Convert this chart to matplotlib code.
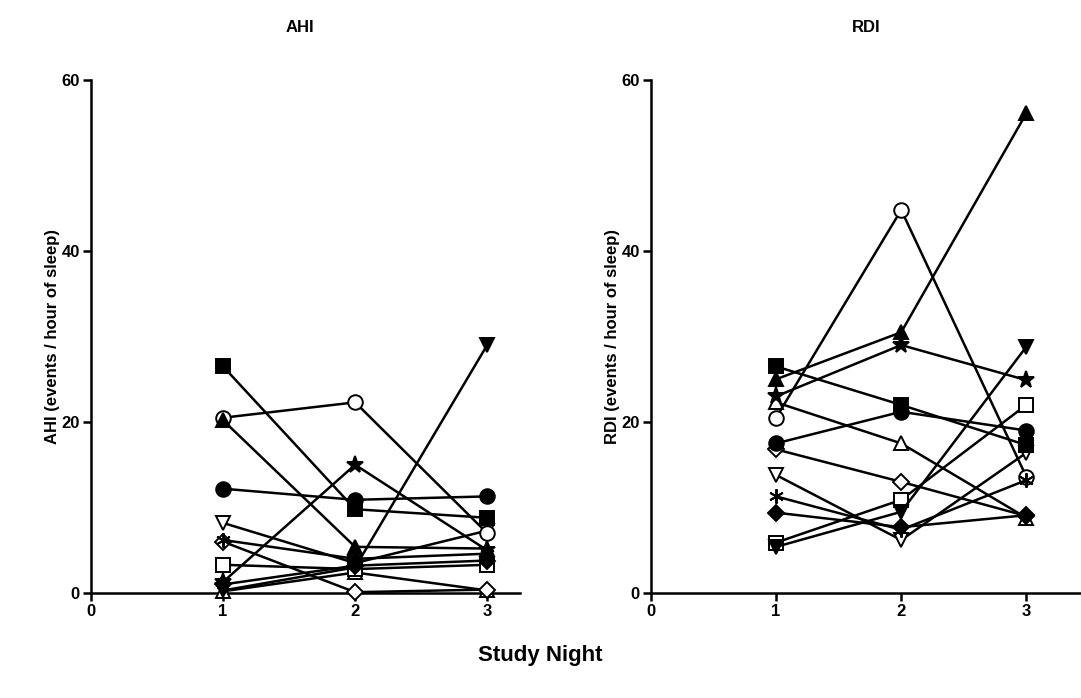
import numpy as np
import matplotlib
matplotlib.use('Agg')
import matplotlib.pyplot as plt

plt.rcParams['font.family'] = ['Liberation Sans', 'DejaVu Sans']
plt.rcParams['font.weight'] = 'bold'

# ------------------------------------------------------------
# data
# ------------------------------------------------------------
nights = [1, 2, 3]

# one key per subject (marker shape + fill), drawn in this order
subjects = ['tu_o', 'di_o', 'sq_o', 'td_o', 'ci_o', 'ast', 'sq_f',
            'ci_f', 'tu_f', 'st_f', 'di_f', 'td_f']

ahi = {
    'sq_f': [26.5, 9.8, 8.8],
    'ci_o': [20.5, 22.3, 7.0],
    'tu_f': [20.2, 5.4, 5.2],
    'ci_f': [12.2, 10.9, 11.3],
    'td_o': [8.2, 3.5, 7.3],
    'ast':  [6.2, 4.0, 4.6],
    'di_o': [6.0, 0.1, 0.4],
    'sq_o': [3.3, 2.8, 3.3],
    'st_f': [1.3, 15.0, 5.0],
    'di_f': [1.0, 3.2, 3.8],
    'td_f': [0.3, 3.0, 29.0],
    'tu_o': [0.2, 2.4, 0.3],
}

rdi = {
    'sq_f': [26.5, 22.0, 17.3],
    'ci_o': [20.5, 44.8, 13.6],
    'tu_f': [25.0, 30.5, 56.1],
    'ci_f': [17.5, 21.2, 19.0],
    'td_o': [13.8, 6.2, 16.4],
    'ast':  [11.3, 7.4, 13.2],
    'di_o': [16.8, 13.0, 9.0],
    'sq_o': [5.9, 10.9, 22.0],
    'st_f': [23.0, 29.0, 24.9],
    'di_f': [9.4, 7.7, 9.1],
    'td_f': [5.4, 9.5, 28.8],
    'tu_o': [22.3, 17.5, 8.8],
}

styles = {
    'sq_f': dict(marker='s', mfc='black', ms=9.5),
    'ci_o': dict(marker='o', mfc='white', ms=10.5),
    'tu_f': dict(marker='^', mfc='black', ms=10.5),
    'ci_f': dict(marker='o', mfc='black', ms=10.5),
    'td_o': dict(marker='v', mfc='white', ms=10.5),
    'ast':  dict(marker=(6, 2, 0), mfc='black', ms=10.5),
    'di_o': dict(marker='D', mfc='white', ms=8),
    'sq_o': dict(marker='s', mfc='white', ms=9.5),
    'st_f': dict(marker='*', mfc='black', ms=12.5),
    'di_f': dict(marker='D', mfc='black', ms=8),
    'td_f': dict(marker='v', mfc='black', ms=10.5),
    'tu_o': dict(marker='^', mfc='white', ms=10.5),
}

fig = plt.figure(figsize=(10.81, 6.98), dpi=100)
ax1 = fig.add_axes([0.0842, 0.1504, 0.397, 0.735])
ax2 = fig.add_axes([0.6022, 0.1504, 0.397, 0.735])

panels = [(ax1, ahi, 'AHI', 3.25), (ax2, rdi, 'RDI', 3.43)]
for ax, data, name, xmax in panels:
    for s in subjects:
        ax.plot(nights, data[s], color='black', lw=1.8, mec='black',
                mew=1.4, clip_on=False, zorder=3, **styles[s])
    ax.set_xlim(0, xmax)
    ax.set_ylim(0, 60)
    ax.set_xticks([0, 1, 2, 3])
    ax.set_yticks([0, 20, 40, 60])
    ax.spines['top'].set_visible(False)
    ax.spines['right'].set_visible(False)
    for sp in ['left', 'bottom']:
        ax.spines[sp].set_linewidth(1.8)
    ax.tick_params(direction='out', length=6, width=1.8, labelsize=12, pad=2)
    for lab in ax.get_xticklabels() + ax.get_yticklabels():
        lab.set_fontweight('bold')
    ax.set_ylabel(f'{name} (events / hour of sleep)', fontsize=12,
                  fontweight='bold', labelpad=1)

# panel titles sit well above the axes
fig.text(300 / 1081, 1 - 27 / 698, 'AHI', ha='center', va='center',
         fontsize=12, fontweight='bold')
fig.text(866 / 1081, 1 - 27 / 698, 'RDI', ha='center', va='center',
         fontsize=12, fontweight='bold')

fig.text(0.5, 1 - 655 / 698, 'Study Night', ha='center', va='center',
         fontsize=16, fontweight='bold')

fig.savefig('out.png', dpi=100)
